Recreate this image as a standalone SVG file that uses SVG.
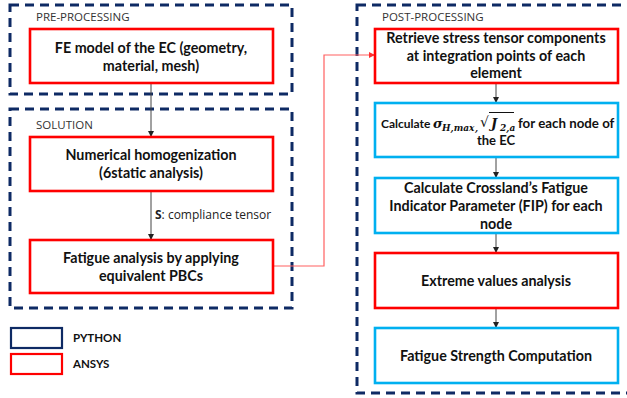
<svg xmlns="http://www.w3.org/2000/svg" width="627" height="398" viewBox="0 0 627 398">
<style>
.grp{fill:none;stroke:#0E2A64;stroke-width:3;stroke-dasharray:9,6}
.ans{fill:#fff;stroke:#FF0000;stroke-width:2.6}
.py{fill:#fff;stroke:#00B0F0;stroke-width:2.6}
.t{font-family:Lato,"Open Sans",sans-serif;font-weight:bold;font-size:14.3px;fill:#111;text-anchor:middle}
.h{font-family:"Open Sans","Noto Sans",sans-serif;font-size:11.5px;fill:#333}
.c{fill:none;stroke:#444;stroke-width:1}
.r{fill:none;stroke:#FF6060;stroke-width:1.2}
.lg{font-family:Lato,"Open Sans",sans-serif;font-weight:bold;font-size:11.5px;fill:#111}
.m{font-family:"DejaVu Serif","Liberation Serif",serif;font-style:italic;font-weight:bold;fill:#111}
</style>
<defs>
<marker id="ak" markerWidth="6" markerHeight="6" refX="5" refY="3" orient="auto" markerUnits="userSpaceOnUse"><path d="M0,0 L6,3 L0,6 z" fill="#222"/></marker>
<marker id="ar" markerWidth="6" markerHeight="6" refX="5" refY="3" orient="auto" markerUnits="userSpaceOnUse"><path d="M0,0 L6,3 L0,6 z" fill="#FF3030"/></marker>
</defs>
<rect x="0" y="0" width="627" height="398" fill="#fff"/>
<g id="groups">
<rect class="grp" x="10" y="5" width="282" height="89"/>
<rect class="grp" x="10" y="109" width="282" height="199"/>
<rect class="grp" x="357" y="5" width="275" height="388"/>
<text class="h" x="36" y="21">PRE-PROCESSING</text>
<text class="h" x="36" y="129">SOLUTION</text>
<text class="h" x="382" y="21">POST-PROCESSING</text>
</g>
<g id="connectors">
<line class="c" x1="151" y1="84" x2="151" y2="136" marker-end="url(#ak)"/>
<line class="c" x1="151" y1="191" x2="151" y2="239" marker-end="url(#ak)"/>
<text class="h" x="155" y="219" style="fill:#222;font-size:12px"><tspan font-weight="bold">S</tspan>: compliance tensor</text>
<polyline class="r" points="274,266 324,266 324,55 374,55" marker-end="url(#ar)"/>
<line class="c" x1="496" y1="84" x2="496" y2="102" marker-end="url(#ak)"/>
<line class="c" x1="496" y1="158" x2="496" y2="177" marker-end="url(#ak)"/>
<line class="c" x1="496" y1="234" x2="496" y2="252" marker-end="url(#ak)"/>
<line class="c" x1="496" y1="309" x2="496" y2="327" marker-end="url(#ak)"/>
</g>
<g id="fe-model">
<rect class="ans" x="30" y="29" width="243" height="54"/>
<text class="t" x="151" y="53">FE model of the EC (geometry,</text>
<text class="t" x="151" y="71">material, mesh)</text>
</g>
<g id="homogenization">
<rect class="ans" x="30" y="137" width="243" height="54"/>
<text class="t" x="151" y="160">Numerical homogenization</text>
<text class="t" x="151" y="178">(6static analysis)</text>
</g>
<g id="fatigue-analysis">
<rect class="ans" x="30" y="240" width="243" height="53"/>
<text class="t" x="151" y="263">Fatigue analysis by applying</text>
<text class="t" x="151" y="281">equivalent PBCs</text>
</g>
<g id="retrieve">
<rect class="ans" x="375" y="29" width="243" height="54"/>
<text class="t" x="496" y="43">Retrieve stress tensor components</text>
<text class="t" x="496" y="61">at integration points of each</text>
<text class="t" x="496" y="78">element</text>
</g>
<g id="calc-sigma">
<rect class="py" x="375" y="103" width="243" height="54"/>
<text class="t" x="381" y="128" style="text-anchor:start;font-size:12px">Calculate</text>
<text class="m" x="433" y="128" font-size="13">σ</text>
<text class="m" x="442" y="131" font-size="9">H,max</text>
<text class="m" x="475" y="131" font-size="9">,</text>
<text x="480" y="127" font-family="DejaVu Sans" font-size="14" fill="#111">√</text>
<line x1="489" y1="112.5" x2="514" y2="112.5" stroke="#111" stroke-width="1"/>
<text class="m" x="491" y="128" font-size="13">J</text>
<text class="m" x="500" y="131" font-size="9">2,a</text>
<text class="t" x="518" y="128" style="text-anchor:start;font-size:13.3px">for each node of</text>
<text class="t" x="496" y="145" style="font-size:13px">the EC</text>
</g>
<g id="crossland">
<rect class="py" x="375" y="178" width="243" height="55"/>
<text class="t" x="496" y="193">Calculate Crossland’s Fatigue</text>
<text class="t" x="496" y="211">Indicator Parameter (FIP) for each</text>
<text class="t" x="496" y="229">node</text>
</g>
<g id="extreme">
<rect class="ans" x="375" y="253" width="243" height="55"/>
<text class="t" x="496" y="286">Extreme values analysis</text>
</g>
<g id="strength">
<rect class="py" x="375" y="328" width="243" height="55"/>
<text class="t" x="496" y="361">Fatigue Strength Computation</text>
</g>
<g id="legend">
<rect x="11" y="328" width="51" height="20" fill="none" stroke="#0E2A64" stroke-width="2.2"/>
<rect x="11" y="354" width="51" height="20" fill="none" stroke="#FF0000" stroke-width="2.2"/>
<text class="lg" x="73" y="342">PYTHON</text>
<text class="lg" x="73" y="368">ANSYS</text>
</g>
</svg>
